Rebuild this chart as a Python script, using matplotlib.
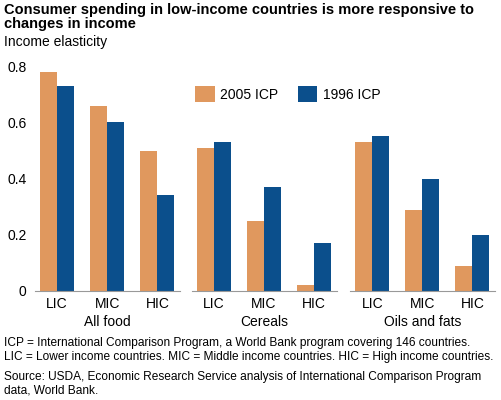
import matplotlib
matplotlib.use("Agg")
import matplotlib.pyplot as plt
import numpy as np

panels = ["All food", "Cereals", "Oils and fats"]
groups = ["LIC", "MIC", "HIC"]
icp2005 = [[0.78, 0.66, 0.50], [0.51, 0.25, 0.02], [0.53, 0.29, 0.09]]
icp1996 = [[0.73, 0.60, 0.34], [0.53, 0.37, 0.17], [0.55, 0.40, 0.20]]
yticks = [0, 0.2, 0.4, 0.6, 0.8]
ytlabels = ["0", "0.2", "0.4", "0.6", "0.8"]

c_or = "#E0985E"
c_bl = "#0B4F8C"
plt.rcParams['font.family'] = ['Liberation Sans', 'DejaVu Sans']

fig = plt.figure(figsize=(5.01, 4.0), dpi=100)
lefts = [0.07, 0.383, 0.699]
w = 0.34
x = np.arange(3)
handles = None
for i, l in enumerate(lefts):
    ax = fig.add_axes([l, 0.2725, 0.29, 0.576])
    b1 = ax.bar(x - w/2, icp2005[i], w, color=c_or, label="2005 ICP")
    b2 = ax.bar(x + w/2, icp1996[i], w, color=c_bl, label="1996 ICP")
    handles = [b1, b2]
    ax.set_xlim(-0.44, 2.46)
    ax.set_ylim(0, 0.82)
    for s in ["top", "right", "left"]:
        ax.spines[s].set_visible(False)
    ax.spines["bottom"].set_color("#999999")
    ax.set_xticks(x)
    ax.set_xticklabels(groups, fontsize=10)
    ax.tick_params(axis='x', length=0, pad=4)
    ax.set_xlabel(panels[i], fontsize=10, labelpad=3)
    if i == 0:
        ax.set_yticks(yticks)
        ax.set_yticklabels(ytlabels, fontsize=10)
        ax.tick_params(axis='y', length=0, pad=6)
    else:
        ax.set_yticks([])

fig.legend(handles, ["2005 ICP", "1996 ICP"], loc="center left", bbox_to_anchor=(0.365, 0.765),
           ncol=2, frameon=False, fontsize=10, handlelength=1.4, handleheight=1.4,
           columnspacing=1.4, handletextpad=0.4)

fig.text(0.008, 0.992, "Consumer spending in low-income countries is more responsive to\nchanges in income",
         fontsize=10.5, fontweight="bold", va="top", ha="left", linespacing=1.0)
fig.text(0.008, 0.895, "Income elasticity", fontsize=10, va="center", ha="left")
fig.text(0.008, 0.125, "ICP = International Comparison Program, a World Bank program covering 146 countries.\n"
         "LIC = Lower income countries. MIC = Middle income countries. HIC = High income countries.",
         fontsize=8.6, va="center", ha="left", linespacing=1.15)
fig.text(0.008, 0.04, "Source: USDA, Economic Research Service analysis of International Comparison Program\ndata, World Bank.",
         fontsize=8.6, va="center", ha="left", linespacing=1.15)
fig.savefig("out.png", dpi=100)
